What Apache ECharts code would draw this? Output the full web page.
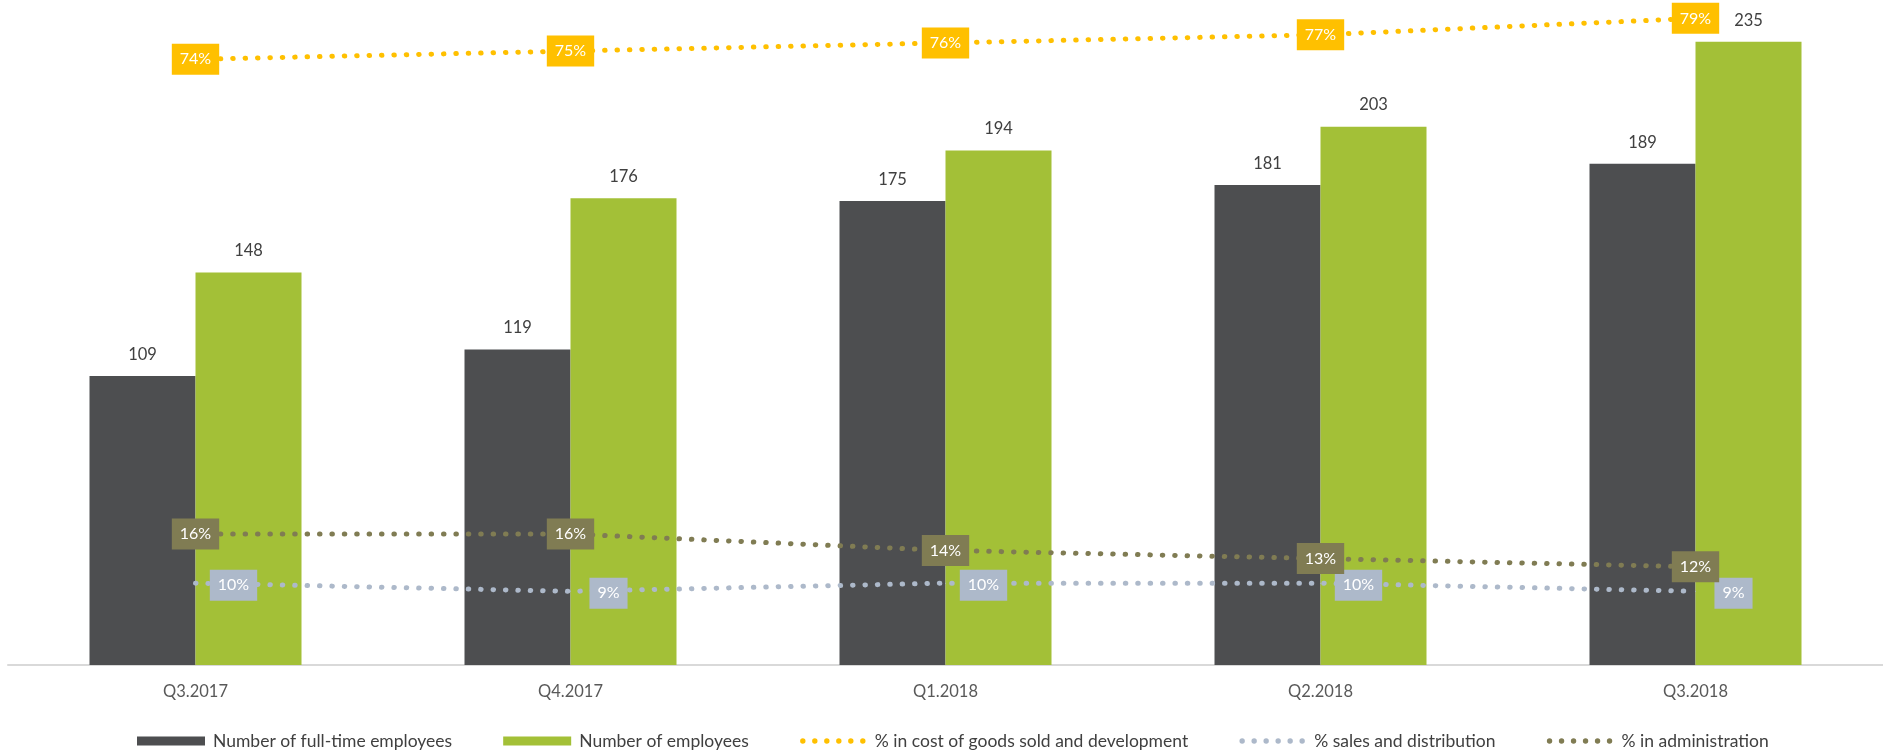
<!DOCTYPE html>
<html>
<head>
<meta charset="utf-8">
<title>Employees by quarter</title>
<script src="https://cdn.jsdelivr.net/npm/echarts@6/dist/echarts.min.js"></script>
<style>
  html, body { margin: 0; padding: 0; background: #ffffff; }
  #chart { width: 1883px; height: 751px; }
</style>
</head>
<body>
<div id="chart"></div>
<script>
// Quarters on the category axis
const quarters = ['Q3.2017', 'Q4.2017', 'Q1.2018', 'Q2.2018', 'Q3.2018'];

// Headcounts (left, hidden axis)
const fullTimeEmployees = [109, 119, 175, 181, 189];
const allEmployees = [148, 176, 194, 203, 235];

// Shares of staff by function, in percent (right, hidden axis)
const costOfGoodsShare = [74, 75, 76, 77, 79];
const salesShare = [10, 9, 10, 10, 9];
const adminShare = [16, 16, 14, 13, 12];

const seriesNames = [
  'Number of full-time employees',
  'Number of employees',
  '% in cost of goods sold and development',
  '% sales and distribution',
  '% in administration'
];

const colors = {
  fullTime: '#4d4e50',
  all: '#a3c037',
  cost: '#ffc000',
  sales: '#adb9ca',
  admin: '#807c53'
};

const FONT = 'Lato, "Noto Sans", sans-serif';

// Legend icon: a row of six round dots
function dotsIcon() {
  const r = 2.7, step = 12, cy = 4.5;
  let d = 'M0 0 M66 9 ';
  for (let i = 0; i < 6; i++) {
    const cx = 3 + i * step;
    d += 'M' + (cx - r) + ' ' + cy + ' a' + r + ' ' + r + ' 0 1 0 ' + (2 * r) + ' 0 a' + r + ' ' + r + ' 0 1 0 ' + (-2 * r) + ' 0 Z ';
  }
  return 'path://' + d;
}

function dottedLine(name, data, color, labelOffset) {
  return {
    name: name,
    type: 'line',
    yAxisIndex: 1,
    data: data,
    symbol: 'circle',
    symbolSize: 1,
    itemStyle: { color: color },
    lineStyle: { color: color, width: 5, type: [0.5, 11.9], cap: 'round' },
    z: 5,
    label: {
      show: true,
      position: 'inside',
      offset: labelOffset,
      formatter: '{c}%',
      color: '#ffffff',
      backgroundColor: color,
      padding: [6, 8],
      lineHeight: 19,
      fontFamily: FONT,
      fontSize: 16
    },
    animation: false
  };
}

function barSeries(name, data, color) {
  return {
    name: name,
    type: 'bar',
    data: data,
    barWidth: 106,
    barGap: '0%',
    itemStyle: { color: color },
    label: {
      show: true,
      position: 'top',
      distance: 13,
      color: '#404040',
      fontFamily: FONT,
      fontSize: 16.5
    },
    animation: false
  };
}

const chart = echarts.init(document.getElementById('chart'), null, { renderer: 'canvas' });

chart.setOption({
  backgroundColor: '#ffffff',
  animation: false,
  grid: { left: 8, right: 0, top: 2, bottom: 86, containLabel: false },
  legend: {
    left: 132,
    top: 727,
    itemWidth: 68,
    itemHeight: 9,
    itemGap: 51,
    textStyle: { color: '#404040', fontFamily: FONT, fontSize: 17.5, padding: [0, 0, 0, 3] },
    data: [
      { name: seriesNames[0], icon: 'rect' },
      { name: seriesNames[1], icon: 'rect' },
      { name: seriesNames[2], icon: dotsIcon() },
      { name: seriesNames[3], icon: dotsIcon() },
      { name: seriesNames[4], icon: dotsIcon() }
    ]
  },
  xAxis: {
    type: 'category',
    data: quarters,
    boundaryGap: true,
    axisLine: { show: true, lineStyle: { color: '#d9d9d9', width: 2 } },
    axisTick: { show: false },
    axisLabel: { color: '#595959', fontFamily: FONT, fontSize: 16.5, margin: 18 },
    splitLine: { show: false }
  },
  yAxis: [
    { type: 'value', min: 0, max: 250, show: false, splitLine: { show: false } },
    { type: 'value', min: 0, max: 81, show: false, splitLine: { show: false } }
  ],
  series: [
    barSeries(seriesNames[0], fullTimeEmployees, colors.fullTime),
    barSeries(seriesNames[1], allEmployees, colors.all),
    dottedLine(seriesNames[2], costOfGoodsShare, colors.cost, [0, 0]),
    dottedLine(seriesNames[3], salesShare, colors.sales, [38, 2]),
    dottedLine(seriesNames[4], adminShare, colors.admin, [0, 0])
  ]
});
</script>
</body>
</html>
